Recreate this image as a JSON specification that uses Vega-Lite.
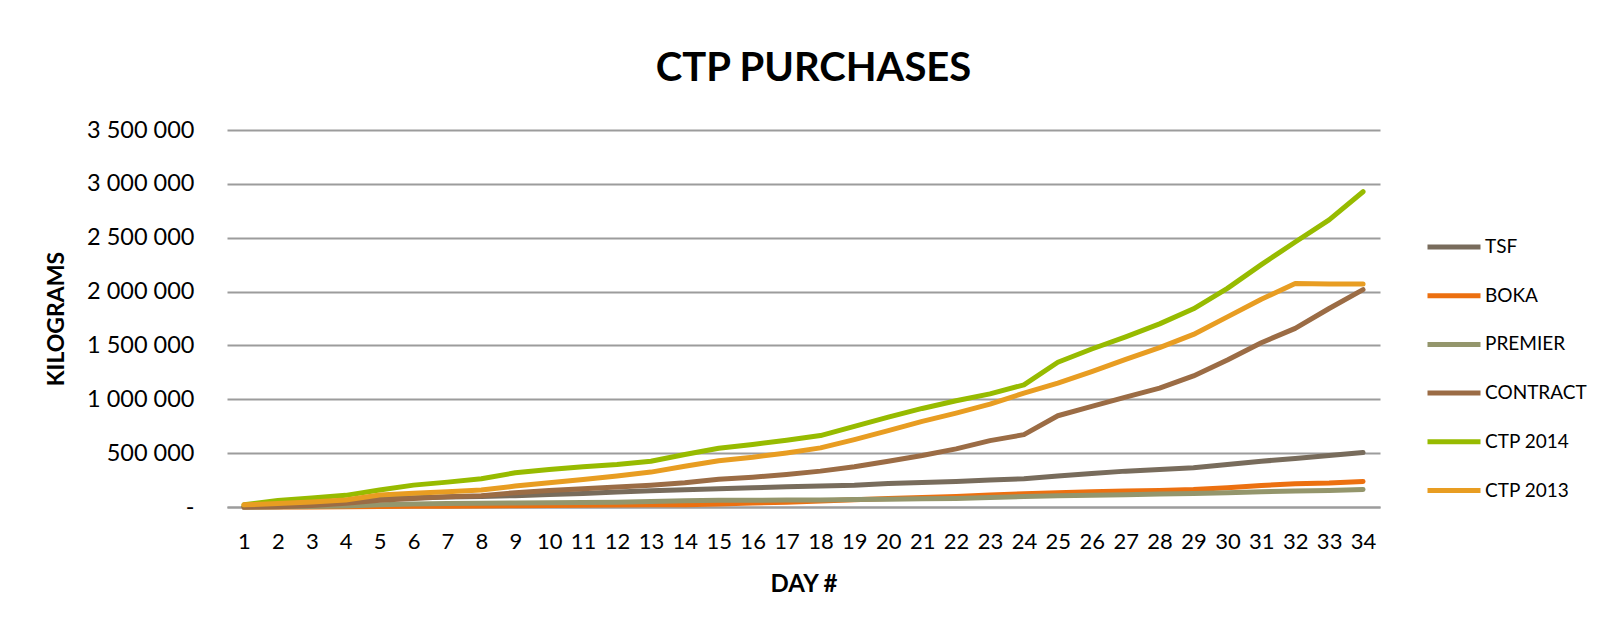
{
  "$schema": "https://vega.github.io/schema/vega-lite/v6.json",
  "width": 1153,
  "height": 377,
  "autosize": {"type": "none"},
  "padding": {"left": 227, "top": 130, "right": 233, "bottom": 126},
  "background": "white",
  "title": {"text": "CTP PURCHASES", "font": "Lato", "fontSize": 40, "fontWeight": "bold", "color": "#000000", "offset": 29, "anchor": "middle", "dx": 10},
  "data": {"values": [
    {"d":1,"s":"TSF","v":0},{"d":2,"s":"TSF","v":15000},{"d":3,"s":"TSF","v":30000},{"d":4,"s":"TSF","v":50000},{"d":5,"s":"TSF","v":75000},{"d":6,"s":"TSF","v":85000},{"d":7,"s":"TSF","v":92000},{"d":8,"s":"TSF","v":98000},{"d":9,"s":"TSF","v":105000},{"d":10,"s":"TSF","v":115000},{"d":11,"s":"TSF","v":125000},{"d":12,"s":"TSF","v":140000},{"d":13,"s":"TSF","v":150000},{"d":14,"s":"TSF","v":160000},{"d":15,"s":"TSF","v":170000},{"d":16,"s":"TSF","v":179000},{"d":17,"s":"TSF","v":188000},{"d":18,"s":"TSF","v":194000},{"d":19,"s":"TSF","v":203000},{"d":20,"s":"TSF","v":219000},{"d":21,"s":"TSF","v":228000},{"d":22,"s":"TSF","v":237000},{"d":23,"s":"TSF","v":250000},{"d":24,"s":"TSF","v":262000},{"d":25,"s":"TSF","v":287000},{"d":26,"s":"TSF","v":311000},{"d":27,"s":"TSF","v":333000},{"d":28,"s":"TSF","v":348000},{"d":29,"s":"TSF","v":364000},{"d":30,"s":"TSF","v":395000},{"d":31,"s":"TSF","v":425000},{"d":32,"s":"TSF","v":450000},{"d":33,"s":"TSF","v":478000},{"d":34,"s":"TSF","v":506000},
    {"d":1,"s":"BOKA","v":0},{"d":2,"s":"BOKA","v":0},{"d":3,"s":"BOKA","v":0},{"d":4,"s":"BOKA","v":2000},{"d":5,"s":"BOKA","v":4000},{"d":6,"s":"BOKA","v":6000},{"d":7,"s":"BOKA","v":8000},{"d":8,"s":"BOKA","v":10000},{"d":9,"s":"BOKA","v":12000},{"d":10,"s":"BOKA","v":14000},{"d":11,"s":"BOKA","v":16000},{"d":12,"s":"BOKA","v":18000},{"d":13,"s":"BOKA","v":20000},{"d":14,"s":"BOKA","v":22000},{"d":15,"s":"BOKA","v":28000},{"d":16,"s":"BOKA","v":36000},{"d":17,"s":"BOKA","v":45000},{"d":18,"s":"BOKA","v":56000},{"d":19,"s":"BOKA","v":68000},{"d":20,"s":"BOKA","v":78000},{"d":21,"s":"BOKA","v":88000},{"d":22,"s":"BOKA","v":98000},{"d":23,"s":"BOKA","v":112000},{"d":24,"s":"BOKA","v":123000},{"d":25,"s":"BOKA","v":133000},{"d":26,"s":"BOKA","v":142000},{"d":27,"s":"BOKA","v":148000},{"d":28,"s":"BOKA","v":154000},{"d":29,"s":"BOKA","v":163000},{"d":30,"s":"BOKA","v":179000},{"d":31,"s":"BOKA","v":200000},{"d":32,"s":"BOKA","v":215000},{"d":33,"s":"BOKA","v":222000},{"d":34,"s":"BOKA","v":237000},
    {"d":1,"s":"PREMIER","v":0},{"d":2,"s":"PREMIER","v":2000},{"d":3,"s":"PREMIER","v":5000},{"d":4,"s":"PREMIER","v":10000},{"d":5,"s":"PREMIER","v":20000},{"d":6,"s":"PREMIER","v":28000},{"d":7,"s":"PREMIER","v":33000},{"d":8,"s":"PREMIER","v":35000},{"d":9,"s":"PREMIER","v":37000},{"d":10,"s":"PREMIER","v":40000},{"d":11,"s":"PREMIER","v":42000},{"d":12,"s":"PREMIER","v":45000},{"d":13,"s":"PREMIER","v":50000},{"d":14,"s":"PREMIER","v":58000},{"d":15,"s":"PREMIER","v":62000},{"d":16,"s":"PREMIER","v":63000},{"d":17,"s":"PREMIER","v":64000},{"d":18,"s":"PREMIER","v":66000},{"d":19,"s":"PREMIER","v":69000},{"d":20,"s":"PREMIER","v":72000},{"d":21,"s":"PREMIER","v":76000},{"d":22,"s":"PREMIER","v":80000},{"d":23,"s":"PREMIER","v":88000},{"d":24,"s":"PREMIER","v":98000},{"d":25,"s":"PREMIER","v":105000},{"d":26,"s":"PREMIER","v":110000},{"d":27,"s":"PREMIER","v":114000},{"d":28,"s":"PREMIER","v":120000},{"d":29,"s":"PREMIER","v":126000},{"d":30,"s":"PREMIER","v":133000},{"d":31,"s":"PREMIER","v":142000},{"d":32,"s":"PREMIER","v":148000},{"d":33,"s":"PREMIER","v":154000},{"d":34,"s":"PREMIER","v":163000},
    {"d":1,"s":"CONTRACT","v":0},{"d":2,"s":"CONTRACT","v":2000},{"d":3,"s":"CONTRACT","v":15000},{"d":4,"s":"CONTRACT","v":34000},{"d":5,"s":"CONTRACT","v":62000},{"d":6,"s":"CONTRACT","v":80000},{"d":7,"s":"CONTRACT","v":96000},{"d":8,"s":"CONTRACT","v":105000},{"d":9,"s":"CONTRACT","v":133000},{"d":10,"s":"CONTRACT","v":154000},{"d":11,"s":"CONTRACT","v":170000},{"d":12,"s":"CONTRACT","v":185000},{"d":13,"s":"CONTRACT","v":203000},{"d":14,"s":"CONTRACT","v":225000},{"d":15,"s":"CONTRACT","v":258000},{"d":16,"s":"CONTRACT","v":277000},{"d":17,"s":"CONTRACT","v":302000},{"d":18,"s":"CONTRACT","v":333000},{"d":19,"s":"CONTRACT","v":373000},{"d":20,"s":"CONTRACT","v":425000},{"d":21,"s":"CONTRACT","v":478000},{"d":22,"s":"CONTRACT","v":540000},{"d":23,"s":"CONTRACT","v":616000},{"d":24,"s":"CONTRACT","v":672000},{"d":25,"s":"CONTRACT","v":847000},{"d":26,"s":"CONTRACT","v":934000},{"d":27,"s":"CONTRACT","v":1020000},{"d":28,"s":"CONTRACT","v":1103000},{"d":29,"s":"CONTRACT","v":1217000},{"d":30,"s":"CONTRACT","v":1365000},{"d":31,"s":"CONTRACT","v":1525000},{"d":32,"s":"CONTRACT","v":1658000},{"d":33,"s":"CONTRACT","v":1843000},{"d":34,"s":"CONTRACT","v":2018000},
    {"d":1,"s":"CTP 2014","v":20000},{"d":2,"s":"CTP 2014","v":60000},{"d":3,"s":"CTP 2014","v":83000},{"d":4,"s":"CTP 2014","v":108000},{"d":5,"s":"CTP 2014","v":157000},{"d":6,"s":"CTP 2014","v":203000},{"d":7,"s":"CTP 2014","v":231000},{"d":8,"s":"CTP 2014","v":262000},{"d":9,"s":"CTP 2014","v":318000},{"d":10,"s":"CTP 2014","v":348000},{"d":11,"s":"CTP 2014","v":373000},{"d":12,"s":"CTP 2014","v":395000},{"d":13,"s":"CTP 2014","v":425000},{"d":14,"s":"CTP 2014","v":487000},{"d":15,"s":"CTP 2014","v":545000},{"d":16,"s":"CTP 2014","v":580000},{"d":17,"s":"CTP 2014","v":620000},{"d":18,"s":"CTP 2014","v":663000},{"d":19,"s":"CTP 2014","v":749000},{"d":20,"s":"CTP 2014","v":835000},{"d":21,"s":"CTP 2014","v":915000},{"d":22,"s":"CTP 2014","v":986000},{"d":23,"s":"CTP 2014","v":1050000},{"d":24,"s":"CTP 2014","v":1134000},{"d":25,"s":"CTP 2014","v":1344000},{"d":26,"s":"CTP 2014","v":1467000},{"d":27,"s":"CTP 2014","v":1580000},{"d":28,"s":"CTP 2014","v":1700000},{"d":29,"s":"CTP 2014","v":1840000},{"d":30,"s":"CTP 2014","v":2030000},{"d":31,"s":"CTP 2014","v":2250000},{"d":32,"s":"CTP 2014","v":2460000},{"d":33,"s":"CTP 2014","v":2665000},{"d":34,"s":"CTP 2014","v":2927000},
    {"d":1,"s":"CTP 2013","v":20000},{"d":2,"s":"CTP 2013","v":32000},{"d":3,"s":"CTP 2013","v":46000},{"d":4,"s":"CTP 2013","v":65000},{"d":5,"s":"CTP 2013","v":111000},{"d":6,"s":"CTP 2013","v":127000},{"d":7,"s":"CTP 2013","v":142000},{"d":8,"s":"CTP 2013","v":157000},{"d":9,"s":"CTP 2013","v":194000},{"d":10,"s":"CTP 2013","v":225000},{"d":11,"s":"CTP 2013","v":256000},{"d":12,"s":"CTP 2013","v":287000},{"d":13,"s":"CTP 2013","v":324000},{"d":14,"s":"CTP 2013","v":379000},{"d":15,"s":"CTP 2013","v":430000},{"d":16,"s":"CTP 2013","v":462000},{"d":17,"s":"CTP 2013","v":502000},{"d":18,"s":"CTP 2013","v":549000},{"d":19,"s":"CTP 2013","v":626000},{"d":20,"s":"CTP 2013","v":709000},{"d":21,"s":"CTP 2013","v":795000},{"d":22,"s":"CTP 2013","v":872000},{"d":23,"s":"CTP 2013","v":955000},{"d":24,"s":"CTP 2013","v":1057000},{"d":25,"s":"CTP 2013","v":1150000},{"d":26,"s":"CTP 2013","v":1257000},{"d":27,"s":"CTP 2013","v":1371000},{"d":28,"s":"CTP 2013","v":1479000},{"d":29,"s":"CTP 2013","v":1602000},{"d":30,"s":"CTP 2013","v":1765000},{"d":31,"s":"CTP 2013","v":1929000},{"d":32,"s":"CTP 2013","v":2074000},{"d":33,"s":"CTP 2013","v":2070000},{"d":34,"s":"CTP 2013","v":2070000}
  ]},
  "mark": {"type": "line", "strokeWidth": 5, "strokeCap": "round", "strokeJoin": "round"},
  "encoding": {
    "x": {
      "field": "d", "type": "ordinal",
      "scale": {"type": "point", "padding": 0.5},
      "axis": {
        "title": "DAY #", "titleFont": "Lato", "titleFontSize": 24, "titleFontWeight": "bold", "titleColor": "#000000", "titlePadding": 20,
        "labelAngle": 0, "labelFont": "Lato", "labelFontSize": 22, "labelColor": "#000000", "labelPadding": 24,
        "grid": false, "ticks": false, "domain": true, "domainColor": "#9c9c9c", "domainWidth": 2
      }
    },
    "y": {
      "field": "v", "type": "quantitative",
      "scale": {"domain": [0, 3500000], "nice": false},
      "axis": {
        "values": [0, 500000, 1000000, 1500000, 2000000, 2500000, 3000000, 3500000],
        "labelExpr": "datum.value == 0 ? '-' : replace(format(datum.value, ','), /,/g, ' ')",
        "title": "KILOGRAMS", "titleFont": "Lato", "titleFontSize": 23, "titleFontWeight": "bold", "titleColor": "#000000", "titlePadding": 18,
        "labelFont": "Lato", "labelFontSize": 23.5, "labelColor": "#000000", "labelPadding": 33,
        "grid": true, "gridColor": "#9c9c9c", "gridWidth": 2, "ticks": false, "domain": false,
        "encode": {"labels": {"update": {"dx": {"signal": "datum.value == 0 ? -14 : 0"}}}}
      }
    },
    "color": {
      "field": "s", "type": "nominal",
      "scale": {
        "domain": ["TSF", "BOKA", "PREMIER", "CONTRACT", "CTP 2014", "CTP 2013"],
        "range": ["#786C5C", "#EC7010", "#94966C", "#9B6C45", "#97BB00", "#E89D22"]
      },
      "legend": {
        "orient": "none", "legendX": 1198, "legendY": 93, "title": null,
        "symbolType": "stroke", "symbolStrokeWidth": 5, "symbolSize": 2809,
        "labelFont": "Lato", "labelFontSize": 19, "labelColor": "#000000", "labelOffset": 2,
        "clipHeight": 48, "rowPadding": 0.7
      }
    }
  },
  "config": {"view": {"stroke": null}, "font": "Lato"}
}
